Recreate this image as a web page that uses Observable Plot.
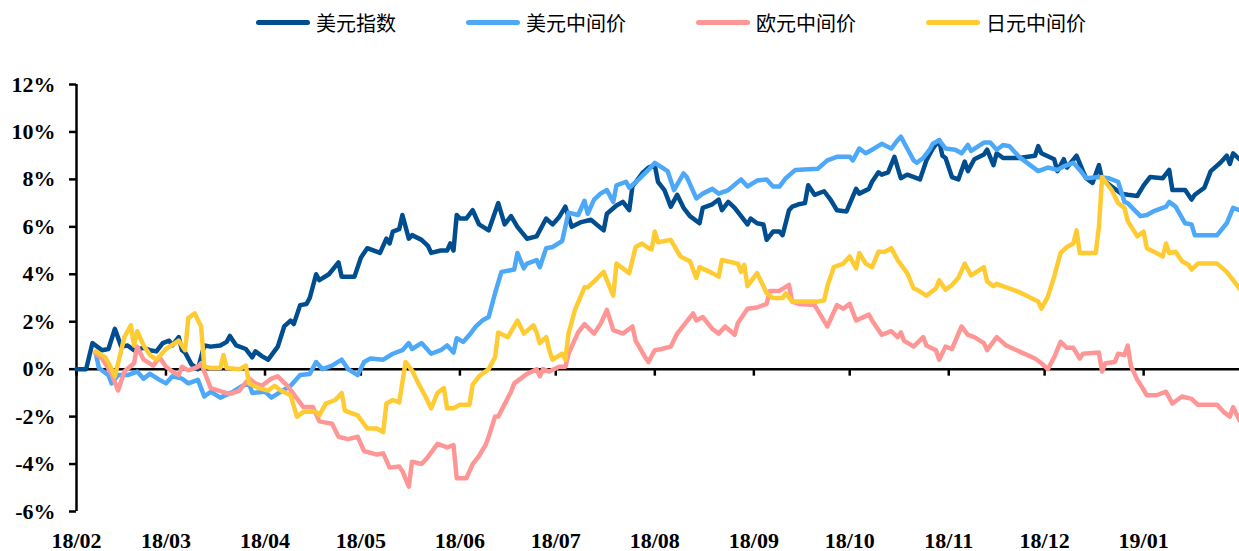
<!DOCTYPE html>
<html><head><meta charset="utf-8">
<script src="https://cdn.jsdelivr.net/npm/d3@7"></script>
<script src="https://cdn.jsdelivr.net/npm/@observablehq/plot@0.6"></script>
<style>
body{margin:0;background:#fff;}
#legend{height:45px;display:flex;align-items:center;padding-left:256px;font-family:"Noto Sans CJK SC",sans-serif;font-size:20px;color:#000;}
.item{display:flex;align-items:center;margin-right:70px;}
.sw{width:54px;height:5px;border-radius:3px;margin-right:6px;}
</style></head><body>
<div id="legend"></div><div id="chart"></div>
<script>
const names = ["美元指数","美元中间价","欧元中间价","日元中间价"];
const colors = ["#004E8F","#4DA8F8","#FF9696","#FFCB33"];
const monthLabels = ["18/02","18/03","18/04","18/05","18/06","18/07","18/08","18/09","18/10","18/11","18/12","19/01"];
const yTicks = [-6,-4,-2,0,2,4,6,8,10,12];

const dxy = [["2018-02-01",0.0],["2018-02-04",0.0],["2018-02-06",1.1],["2018-02-09",0.8],["2018-02-11",0.85],["2018-02-13",1.7],["2018-02-15",0.95],["2018-02-17",1.0],["2018-02-19",0.8],["2018-02-22",0.9],["2018-02-24",0.8],["2018-02-26",0.75],["2018-02-28",1.1],["2018-03-02",1.2],["2018-03-03",1.0],["2018-03-05",1.35],["2018-03-06",0.8],["2018-03-07",0.7],["2018-03-09",0.2],["2018-03-11",0.0],["2018-03-13",1.0],["2018-03-15",0.95],["2018-03-18",1.0],["2018-03-20",1.15],["2018-03-21",1.4],["2018-03-23",1.0],["2018-03-26",0.85],["2018-03-28",0.5],["2018-03-29",0.75],["2018-03-31",0.55],["2018-04-02",0.4],["2018-04-05",0.95],["2018-04-07",1.8],["2018-04-09",2.05],["2018-04-10",1.9],["2018-04-12",2.7],["2018-04-14",2.75],["2018-04-15",3.0],["2018-04-17",4.0],["2018-04-18",3.75],["2018-04-21",4.0],["2018-04-24",4.5],["2018-04-25",3.9],["2018-04-29",3.9],["2018-05-01",4.7],["2018-05-03",5.1],["2018-05-07",4.9],["2018-05-09",5.5],["2018-05-10",5.3],["2018-05-11",5.8],["2018-05-13",5.9],["2018-05-14",6.5],["2018-05-16",5.5],["2018-05-17",5.65],["2018-05-20",5.45],["2018-05-22",5.2],["2018-05-23",4.9],["2018-05-26",5.0],["2018-05-28",5.0],["2018-05-29",5.3],["2018-05-30",5.0],["2018-05-31",6.5],["2018-06-01",6.35],["2018-06-03",6.35],["2018-06-05",6.7],["2018-06-07",6.1],["2018-06-10",5.85],["2018-06-13",7.0],["2018-06-15",6.1],["2018-06-17",6.45],["2018-06-19",6.0],["2018-06-22",5.5],["2018-06-25",5.6],["2018-06-28",6.35],["2018-06-30",6.1],["2018-07-02",6.4],["2018-07-04",6.85],["2018-07-06",6.0],["2018-07-09",6.2],["2018-07-12",6.3],["2018-07-16",5.85],["2018-07-17",6.55],["2018-07-20",6.9],["2018-07-22",7.05],["2018-07-24",6.7],["2018-07-25",7.7],["2018-07-28",8.25],["2018-07-30",8.5],["2018-08-01",8.6],["2018-08-02",7.9],["2018-08-04",7.55],["2018-08-06",6.85],["2018-08-08",7.35],["2018-08-10",6.8],["2018-08-12",6.45],["2018-08-15",6.15],["2018-08-16",6.8],["2018-08-19",6.95],["2018-08-21",7.15],["2018-08-22",6.7],["2018-08-24",7.05],["2018-08-26",6.8],["2018-08-30",6.1],["2018-08-31",6.35],["2018-09-02",6.15],["2018-09-04",6.1],["2018-09-05",5.45],["2018-09-07",5.8],["2018-09-09",5.8],["2018-09-10",5.65],["2018-09-12",6.7],["2018-09-13",6.85],["2018-09-15",6.95],["2018-09-17",7.0],["2018-09-18",7.75],["2018-09-20",7.35],["2018-09-23",7.5],["2018-09-25",7.15],["2018-09-27",6.7],["2018-09-30",6.65],["2018-10-03",7.6],["2018-10-04",7.4],["2018-10-07",7.6],["2018-10-08",7.9],["2018-10-10",8.3],["2018-10-11",8.2],["2018-10-13",8.3],["2018-10-15",8.95],["2018-10-17",8.05],["2018-10-19",8.2],["2018-10-23",8.0],["2018-10-25",8.8],["2018-10-27",9.3],["2018-10-29",9.65],["2018-10-30",9.0],["2018-10-31",8.9],["2018-11-02",8.1],["2018-11-04",8.0],["2018-11-06",8.75],["2018-11-07",8.35],["2018-11-09",8.85],["2018-11-12",9.05],["2018-11-13",9.25],["2018-11-15",8.6],["2018-11-16",9.1],["2018-11-18",8.9],["2018-11-23",8.9],["2018-11-28",9.0],["2018-11-29",9.4],["2018-11-30",9.1],["2018-12-04",8.85],["2018-12-05",8.35],["2018-12-07",8.85],["2018-12-08",8.5],["2018-12-11",9.0],["2018-12-13",8.35],["2018-12-14",8.05],["2018-12-16",7.85],["2018-12-18",8.6],["2018-12-19",8.0],["2018-12-22",7.7],["2018-12-25",7.4],["2018-12-27",7.35],["2018-12-30",7.3],["2019-01-01",7.75],["2019-01-03",8.1],["2019-01-07",8.05],["2019-01-09",8.4],["2019-01-10",7.55],["2019-01-14",7.55],["2019-01-16",7.15],["2019-01-17",7.35],["2019-01-20",7.65],["2019-01-22",8.35],["2019-01-25",8.7],["2019-01-27",9.0],["2019-01-28",8.65],["2019-01-29",9.1],["2019-01-31",8.85]];

const usd = [["2018-02-07",0.7],["2018-02-08",0.05],["2018-02-11",-0.25],["2018-02-12",-0.6],["2018-02-14",-0.25],["2018-02-17",-0.25],["2018-02-20",-0.1],["2018-02-22",-0.4],["2018-02-24",-0.2],["2018-02-27",-0.45],["2018-03-01",-0.6],["2018-03-03",-0.3],["2018-03-06",-0.4],["2018-03-08",-0.6],["2018-03-11",-0.45],["2018-03-13",-1.15],["2018-03-15",-0.95],["2018-03-18",-1.2],["2018-03-22",-0.95],["2018-03-25",-0.7],["2018-03-27",-0.6],["2018-03-28",-1.0],["2018-04-01",-0.95],["2018-04-03",-1.2],["2018-04-06",-0.95],["2018-04-09",-0.7],["2018-04-10",-0.55],["2018-04-12",-0.25],["2018-04-15",-0.2],["2018-04-17",0.3],["2018-04-19",0.0],["2018-04-22",0.15],["2018-04-25",0.4],["2018-04-27",0.0],["2018-04-30",-0.25],["2018-05-02",0.3],["2018-05-04",0.45],["2018-05-08",0.4],["2018-05-11",0.65],["2018-05-14",0.8],["2018-05-16",1.1],["2018-05-17",0.85],["2018-05-20",1.1],["2018-05-23",0.65],["2018-05-26",0.8],["2018-05-28",1.0],["2018-05-30",0.7],["2018-05-31",1.3],["2018-06-02",1.15],["2018-06-04",1.45],["2018-06-06",1.8],["2018-06-08",2.05],["2018-06-10",2.2],["2018-06-12",3.2],["2018-06-14",4.1],["2018-06-16",4.15],["2018-06-18",4.2],["2018-06-19",4.9],["2018-06-21",4.25],["2018-06-22",4.45],["2018-06-25",4.6],["2018-06-26",4.3],["2018-06-28",5.1],["2018-06-30",5.15],["2018-07-03",5.4],["2018-07-05",6.6],["2018-07-08",6.5],["2018-07-10",7.1],["2018-07-11",6.55],["2018-07-13",7.15],["2018-07-15",7.4],["2018-07-17",7.55],["2018-07-19",7.05],["2018-07-20",7.75],["2018-07-23",7.9],["2018-07-24",7.65],["2018-07-27",8.0],["2018-07-30",8.4],["2018-08-01",8.7],["2018-08-05",8.35],["2018-08-07",7.55],["2018-08-10",8.25],["2018-08-11",8.1],["2018-08-14",7.2],["2018-08-16",7.4],["2018-08-19",7.6],["2018-08-21",7.4],["2018-08-24",7.55],["2018-08-28",8.0],["2018-08-30",7.7],["2018-09-02",7.95],["2018-09-05",8.0],["2018-09-07",7.7],["2018-09-09",7.7],["2018-09-11",8.05],["2018-09-14",8.4],["2018-09-21",8.45],["2018-09-24",8.8],["2018-09-27",8.95],["2018-10-01",8.95],["2018-10-02",8.8],["2018-10-04",9.3],["2018-10-06",9.1],["2018-10-08",9.25],["2018-10-11",9.5],["2018-10-14",9.3],["2018-10-16",9.65],["2018-10-17",9.8],["2018-10-19",9.3],["2018-10-21",8.8],["2018-10-22",8.7],["2018-10-24",8.9],["2018-10-26",9.25],["2018-10-27",9.5],["2018-10-29",9.65],["2018-10-31",9.3],["2018-11-03",9.25],["2018-11-05",9.1],["2018-11-07",9.45],["2018-11-08",9.2],["2018-11-12",9.55],["2018-11-14",9.55],["2018-11-16",9.25],["2018-11-18",9.45],["2018-11-20",9.4],["2018-11-23",8.95],["2018-11-27",8.55],["2018-11-29",8.35],["2018-12-02",8.5],["2018-12-05",8.4],["2018-12-07",8.55],["2018-12-10",8.7],["2018-12-12",8.4],["2018-12-14",8.05],["2018-12-18",8.1],["2018-12-21",8.05],["2018-12-24",7.9],["2018-12-26",7.05],["2018-12-27",7.0],["2018-12-31",6.45],["2019-01-02",6.5],["2019-01-04",6.65],["2019-01-08",6.85],["2019-01-09",7.05],["2019-01-11",6.85],["2019-01-14",6.15],["2019-01-16",6.1],["2019-01-17",5.65],["2019-01-24",5.65],["2019-01-27",6.15],["2019-01-29",6.8],["2019-01-31",6.7]];

const eur = [["2018-02-07",0.65],["2018-02-09",0.45],["2018-02-12",-0.2],["2018-02-14",-0.9],["2018-02-16",-0.1],["2018-02-19",0.25],["2018-02-20",0.95],["2018-02-22",0.4],["2018-02-25",0.15],["2018-02-27",0.5],["2018-03-01",0.1],["2018-03-03",-0.1],["2018-03-05",-0.25],["2018-03-06",0.1],["2018-03-08",-0.05],["2018-03-11",0.1],["2018-03-12",0.25],["2018-03-15",-0.8],["2018-03-21",-1.05],["2018-03-24",-0.9],["2018-03-27",-0.4],["2018-03-29",-0.6],["2018-03-31",-0.7],["2018-04-03",-0.4],["2018-04-05",-0.3],["2018-04-08",-0.7],["2018-04-10",-1.05],["2018-04-13",-1.6],["2018-04-16",-1.6],["2018-04-18",-2.2],["2018-04-22",-2.3],["2018-04-24",-2.85],["2018-04-27",-2.95],["2018-04-30",-2.85],["2018-05-02",-3.45],["2018-05-06",-3.6],["2018-05-08",-3.55],["2018-05-10",-4.15],["2018-05-13",-4.1],["2018-05-14",-4.3],["2018-05-16",-4.95],["2018-05-17",-3.9],["2018-05-20",-4.0],["2018-05-22",-3.7],["2018-05-25",-3.15],["2018-05-28",-3.3],["2018-05-30",-3.2],["2018-05-31",-4.6],["2018-06-03",-4.6],["2018-06-05",-4.0],["2018-06-07",-3.65],["2018-06-09",-3.2],["2018-06-10",-2.85],["2018-06-12",-2.0],["2018-06-13",-2.0],["2018-06-17",-0.95],["2018-06-18",-0.6],["2018-06-22",-0.2],["2018-06-25",0.0],["2018-06-26",-0.3],["2018-06-27",0.0],["2018-06-29",-0.1],["2018-07-02",0.1],["2018-07-04",0.1],["2018-07-05",0.65],["2018-07-08",1.55],["2018-07-10",1.9],["2018-07-13",1.5],["2018-07-15",1.9],["2018-07-17",2.5],["2018-07-19",1.65],["2018-07-22",1.5],["2018-07-25",1.8],["2018-07-26",1.2],["2018-07-29",0.5],["2018-07-30",0.3],["2018-08-01",0.8],["2018-08-03",0.85],["2018-08-06",0.95],["2018-08-08",1.5],["2018-08-13",2.35],["2018-08-14",2.05],["2018-08-16",2.2],["2018-08-19",1.7],["2018-08-21",1.5],["2018-08-23",1.8],["2018-08-26",1.45],["2018-08-27",1.95],["2018-08-30",2.55],["2018-09-02",2.6],["2018-09-05",2.75],["2018-09-06",3.3],["2018-09-09",3.3],["2018-09-12",3.55],["2018-09-13",2.85],["2018-09-15",2.75],["2018-09-20",2.7],["2018-09-24",1.8],["2018-09-27",2.7],["2018-09-29",2.55],["2018-10-01",2.75],["2018-10-03",2.05],["2018-10-07",2.3],["2018-10-08",2.05],["2018-10-11",1.45],["2018-10-14",1.6],["2018-10-16",1.35],["2018-10-17",1.55],["2018-10-18",1.2],["2018-10-21",0.95],["2018-10-24",1.35],["2018-10-25",1.0],["2018-10-28",0.8],["2018-10-29",0.4],["2018-10-31",0.95],["2018-11-02",0.85],["2018-11-05",1.8],["2018-11-07",1.45],["2018-11-09",1.35],["2018-11-12",1.1],["2018-11-13",0.8],["2018-11-16",1.35],["2018-11-19",1.0],["2018-11-23",0.75],["2018-11-28",0.45],["2018-11-30",0.25],["2018-12-02",0.0],["2018-12-04",0.5],["2018-12-06",1.15],["2018-12-08",0.9],["2018-12-10",0.9],["2018-12-12",0.45],["2018-12-13",0.65],["2018-12-18",0.7],["2018-12-19",-0.1],["2018-12-20",0.25],["2018-12-23",0.3],["2018-12-24",0.65],["2018-12-26",0.6],["2018-12-27",1.0],["2018-12-28",0.15],["2018-12-30",-0.45],["2018-12-31",-0.65],["2019-01-02",-1.1],["2019-01-05",-1.1],["2019-01-08",-0.95],["2019-01-10",-1.45],["2019-01-13",-1.15],["2019-01-16",-1.25],["2019-01-18",-1.5],["2019-01-24",-1.5],["2019-01-26",-1.8],["2019-01-28",-2.0],["2019-01-29",-1.6],["2019-01-31",-2.15]];

const jpy = [["2018-02-07",0.75],["2018-02-10",0.5],["2018-02-12",0.0],["2018-02-13",-0.3],["2018-02-15",0.8],["2018-02-16",1.35],["2018-02-18",1.85],["2018-02-19",1.0],["2018-02-20",1.6],["2018-02-22",1.0],["2018-02-24",0.6],["2018-02-26",0.4],["2018-03-01",0.85],["2018-03-05",1.2],["2018-03-07",0.8],["2018-03-08",2.15],["2018-03-10",2.35],["2018-03-12",1.8],["2018-03-13",0.1],["2018-03-15",0.05],["2018-03-18",0.05],["2018-03-19",0.6],["2018-03-20",0.05],["2018-03-24",0.0],["2018-03-26",0.15],["2018-03-27",-0.6],["2018-03-30",-0.8],["2018-04-02",-0.9],["2018-04-04",-0.7],["2018-04-06",-0.9],["2018-04-09",-1.1],["2018-04-11",-2.0],["2018-04-13",-1.8],["2018-04-17",-1.8],["2018-04-18",-1.95],["2018-04-20",-1.45],["2018-04-23",-1.3],["2018-04-25",-1.0],["2018-04-26",-1.75],["2018-04-30",-1.95],["2018-05-03",-2.5],["2018-05-06",-2.5],["2018-05-08",-2.65],["2018-05-09",-1.45],["2018-05-11",-1.3],["2018-05-13",-1.4],["2018-05-15",0.3],["2018-05-17",-0.05],["2018-05-19",-0.6],["2018-05-21",-1.1],["2018-05-23",-1.65],["2018-05-25",-1.0],["2018-05-27",-0.8],["2018-05-28",-1.65],["2018-05-30",-1.65],["2018-06-01",-1.5],["2018-06-04",-1.5],["2018-06-05",-0.65],["2018-06-07",-0.3],["2018-06-10",0.0],["2018-06-12",0.5],["2018-06-13",1.55],["2018-06-16",1.35],["2018-06-19",2.05],["2018-06-21",1.5],["2018-06-24",1.85],["2018-06-25",1.55],["2018-06-26",1.1],["2018-06-28",1.35],["2018-06-29",0.8],["2018-06-30",0.4],["2018-07-03",0.65],["2018-07-04",0.4],["2018-07-05",1.5],["2018-07-07",2.5],["2018-07-10",3.45],["2018-07-11",3.45],["2018-07-13",3.7],["2018-07-16",4.1],["2018-07-17",3.75],["2018-07-19",3.1],["2018-07-20",4.45],["2018-07-22",4.25],["2018-07-24",4.05],["2018-07-26",5.15],["2018-07-28",5.3],["2018-07-30",5.1],["2018-07-31",5.05],["2018-08-01",5.8],["2018-08-02",5.35],["2018-08-06",5.45],["2018-08-09",4.75],["2018-08-12",4.55],["2018-08-14",3.85],["2018-08-15",4.3],["2018-08-19",4.05],["2018-08-21",3.9],["2018-08-22",4.6],["2018-08-27",4.45],["2018-08-28",4.1],["2018-08-29",4.4],["2018-08-30",3.5],["2018-09-02",4.05],["2018-09-04",3.5],["2018-09-05",3.2],["2018-09-07",3.0],["2018-09-10",3.0],["2018-09-11",3.2],["2018-09-13",2.85],["2018-09-21",2.85],["2018-09-23",2.9],["2018-09-24",3.5],["2018-09-26",4.3],["2018-09-29",4.45],["2018-10-01",4.75],["2018-10-03",4.25],["2018-10-04",4.9],["2018-10-06",4.45],["2018-10-08",4.3],["2018-10-10",4.95],["2018-10-12",4.95],["2018-10-14",5.1],["2018-10-16",4.6],["2018-10-19",4.05],["2018-10-21",3.4],["2018-10-22",3.35],["2018-10-25",3.1],["2018-10-28",3.4],["2018-10-29",3.75],["2018-10-31",3.35],["2018-11-02",3.55],["2018-11-04",3.85],["2018-11-06",4.45],["2018-11-08",3.95],["2018-11-12",4.3],["2018-11-13",3.7],["2018-11-15",3.5],["2018-11-16",3.6],["2018-11-23",3.25],["2018-11-29",2.85],["2018-11-30",2.55],["2018-12-02",3.05],["2018-12-04",3.9],["2018-12-06",4.9],["2018-12-08",5.15],["2018-12-10",5.3],["2018-12-11",5.85],["2018-12-12",4.9],["2018-12-17",4.9],["2018-12-18",6.0],["2018-12-19",8.1],["2018-12-20",7.9],["2018-12-22",7.55],["2018-12-24",7.0],["2018-12-26",6.8],["2018-12-27",6.25],["2018-12-30",5.6],["2019-01-01",5.8],["2019-01-02",5.1],["2019-01-05",4.9],["2019-01-07",4.75],["2019-01-08",5.3],["2019-01-09",4.9],["2019-01-11",4.95],["2019-01-13",4.55],["2019-01-15",4.4],["2019-01-16",4.2],["2019-01-18",4.45],["2019-01-24",4.45],["2019-01-27",4.1],["2019-01-29",3.75],["2019-01-31",3.4]];

const seriesData = [dxy, usd, eur, jpy];
const rows = seriesData.flatMap((s, k) => s.map(([d, v]) => ({date: new Date(d), value: v, name: names[k]})));

const xStart = new Date("2018-02-01"), xEnd = new Date("2019-01-31");
const months = d3.utcMonths(xStart, new Date("2019-01-02"));
const labelOf = new Map(months.map((m, i) => [+m, monthLabels[i]]));

// legend
const legend = document.getElementById("legend");
names.forEach((n, i) => {
  const it = document.createElement("div"); it.className = "item";
  const sw = document.createElement("span"); sw.className = "sw"; sw.style.background = colors[i];
  const tx = document.createElement("span"); tx.textContent = n;
  it.append(sw, tx); legend.append(it);
});

const chart = Plot.plot({
  width: 1239, height: 506,
  marginLeft: 76, marginRight: 0, marginTop: 39, marginBottom: 40,
  style: {fontFamily: '"Liberation Serif","Times New Roman",serif', fontWeight: "bold", fontSize: "22px", color: "#000", background: "#fff", overflow: "visible"},
  x: {type: "utc", domain: [xStart, xEnd]},
  y: {domain: [-6, 12]},
  color: {domain: names, range: colors},
  marks: [
    Plot.ruleY([0], {stroke: "#000", strokeWidth: 2.5}),
    Plot.ruleX(months, {x: d => d, y1: 0, y2: 0, insetBottom: -7, stroke: "#000", strokeWidth: 2.5}),
    Plot.axisY({ticks: yTicks, tickFormat: d => d + "%", tickSize: 7, tickPadding: 14, strokeWidth: 2.5, label: null, fontSize: 22, fontWeight: "bold"}),
    Plot.ruleX([xStart], {stroke: "#000", strokeWidth: 2.5}),
    Plot.axisX({ticks: months, tickFormat: d => labelOf.get(+d), tickSize: 0, tickPadding: 21, label: null, fontSize: 22, fontWeight: "bold"}),
    Plot.line(rows, {x: "date", y: "value", z: "name", stroke: "name", strokeWidth: 4.5, strokeLinejoin: "round", strokeLinecap: "round"})
  ]
});
document.getElementById("chart").append(chart);
</script>
</body></html>
